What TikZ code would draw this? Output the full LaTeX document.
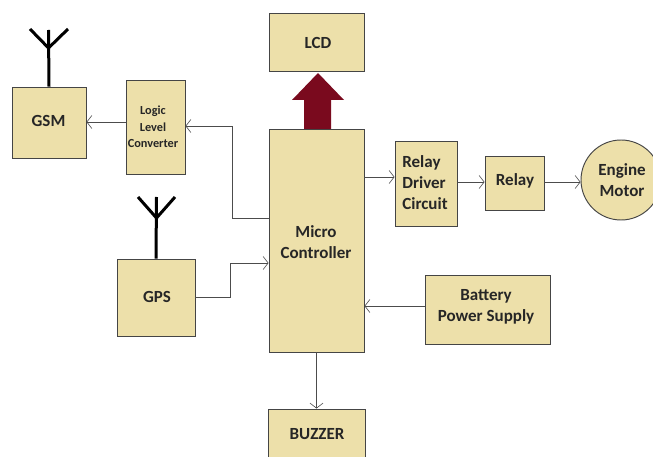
\documentclass[tikz,border=0pt]{standalone}
\usepackage{fontspec}
\setmainfont{Carlito}
\usetikzlibrary{arrows.meta}
\definecolor{boxfill}{HTML}{EDE0AA}
\definecolor{boxline}{HTML}{454545}
\definecolor{bigred}{HTML}{7A0A1E}
\tikzset{
  blockbox/.style={draw=boxline,line width=.95pt,fill=boxfill,rectangle,inner sep=0pt,align=center,text=black!85},
  lbl/.style={inner sep=0pt,align=center,text=black!85,font=\bfseries\fontsize{17}{21}\selectfont},
  conn/.style={draw=black!70,line width=.95pt,-{Straight Barb[length=5pt,width=13pt,line width=.6pt]}},
  antenna/.style={draw=black,line width=3pt}
}
\newcommand{\bx}[5]{\node[blockbox,minimum width=#4 pt,minimum height=#5 pt] (#1) at (#2,#3) {};}
\begin{document}
\begin{tikzpicture}[x=1pt,y=-1pt]
\useasboundingbox (0,0) rectangle (653,457);
\clip (0,0) rectangle (653,457);
\fill[white] (0,0) rectangle (653,457);
% blocks
\bx{gsm}{49}{122.5}{74}{71}
\bx{logic}{155.5}{127}{59}{94}
\bx{lcd}{316.5}{42}{95}{58}
\bx{micro}{316.5}{240.5}{95}{223}
\bx{driver}{426}{183.5}{62}{85}
\bx{relay}{514.5}{183}{59}{54}
\node[blockbox,circle,minimum size=80pt] (engine) at (621,180) {};
\bx{gps}{156}{297.5}{78}{77}
\bx{battery}{487.5}{309.5}{125}{69}
\bx{buzzer}{316.5}{438}{97}{58}
% labels
\node[lbl] (tgsm) at (48.5,121) {GSM};
\node[lbl,font=\bfseries\fontsize{12.3}{16.5}\selectfont] (tlogic) at (153,127) {Logic\\Level\\Converter};
\node[lbl] (tlcd) at (318,43) {LCD};
\node[lbl] (tmicro) at (316,242.5) {Micro\\Controller};
\node[lbl,align=left] (tdriver) at (425,183) {Relay\\Driver\\Circuit};
\node[lbl] (trelay) at (515,181) {Relay};
\node[lbl] (tengine) at (622,180) {Engine\\Motor};
\node[lbl] (tgps) at (157,296.5) {GPS};
\node[lbl] (tbattery) at (486,306.5) {Battery\\Power Supply};
\node[lbl] (tbuzzer) at (317,434) {BUZZER};
% antennas
\draw[antenna] (gsm.north) -- (48.5,30);
\draw[antenna] (30,29) -- (48.5,48) -- (68,29);
\draw[antenna] (gps.north) -- (156.5,197);
\draw[antenna] (138,197) -- (156.5,218) -- (175,197);
% big arrow
\fill[bigred] (304,129) -- (304,100) -- (292,100) -- (318,73) -- (344,100) -- (331,100) -- (331,129) -- cycle;
% connectors
\draw[conn] (logic.west |- 0,122) -- (gsm.east |- 0,122);
\draw[conn] (micro.west |- 0,218) -- (232,218) -- (232,126) -- (logic.east |- 0,126);
\draw[conn] (micro.east |- 0,177) -- (driver.west |- 0,177);
\draw[conn] (driver.east |- 0,182) -- (relay.west |- 0,182);
\draw[conn] (relay.east |- 0,182) -- (engine.west |- 0,182);
\draw[conn] (gps.east |- 0,297) -- (230,297) -- (230,263) -- (micro.west |- 0,263);
\draw[conn] (battery.west |- 0,306) -- (micro.east |- 0,306);
\draw[conn] (micro.south) -- (buzzer.north);
\end{tikzpicture}
\end{document}
